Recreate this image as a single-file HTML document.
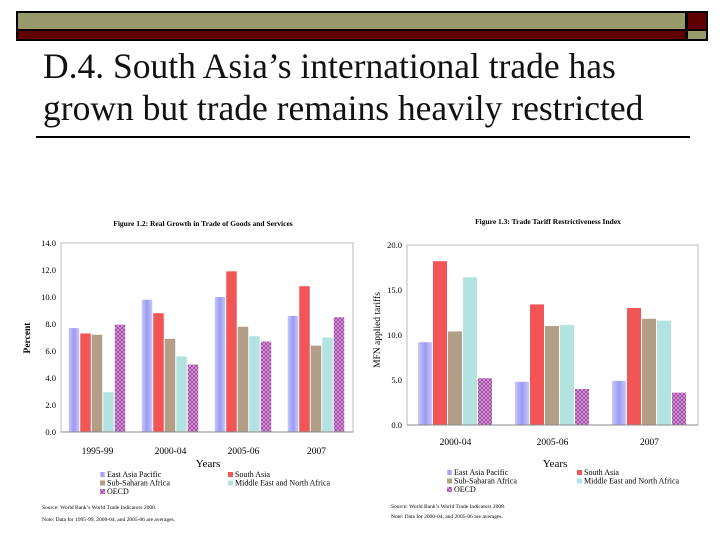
<!DOCTYPE html>
<html><head><meta charset="utf-8"><style>
body{margin:0;width:720px;height:540px;background:#fff;overflow:hidden;position:relative;font-family:"Liberation Serif",serif}
.t{position:absolute;left:43px;top:45px;font-size:35.5px;line-height:42px;color:#111;white-space:nowrap}
</style></head><body>
<div style="position:absolute;left:16px;top:11px;width:692px;height:30px;background:#000"></div>
<div style="position:absolute;left:18px;top:13px;width:667px;height:16px;background:#989a6c"></div>
<div style="position:absolute;left:18px;top:31px;width:667px;height:8px;background:#600000"></div>
<div style="position:absolute;left:688px;top:13px;width:18px;height:16px;background:#600000"></div>
<div style="position:absolute;left:688px;top:31px;width:18px;height:8px;background:#989a6c"></div>
<div class="t">D.4. South Asia’s international trade has<br>grown but trade remains heavily restricted</div>
<div style="position:absolute;left:36px;top:136px;width:654px;height:2px;background:#000"></div>
<svg id="s" width="720" height="540" style="position:absolute;left:0;top:0" font-family="Liberation Serif, serif">
<defs>
<linearGradient id="eap" x1="0" x2="1"><stop offset="0" stop-color="#c8c8fa"/><stop offset="0.5" stop-color="#9a9af2"/><stop offset="1" stop-color="#c8c8fa"/></linearGradient>
<pattern id="oecd" width="4" height="4" patternUnits="userSpaceOnUse"><rect width="4" height="4" fill="#9a3c9e"/><path d="M0 0L4 4M4 0L0 4" stroke="#d9a5dc" stroke-width="0.8"/></pattern>
</defs>
</svg>
<script>
const series=["East Asia Pacific","South Asia","Sub-Saharan Africa","Middle East and North Africa","OECD"];
const fills=["url(#eap)","#f25555","#b39e87","#b3e3e1","url(#oecd)"];
const c1Cats=["1995-99","2000-04","2005-06","2007"];
const c1EAP=[7.7,9.8,10.0,8.6];
const c1SA=[7.3,8.8,11.9,10.8];
const c1SSA=[7.2,6.9,7.8,6.4];
const c1MENA=[2.95,5.6,7.1,7.0];
const c1OECD=[7.95,5.0,6.7,8.5];
const c1Ticks=["0.0","2.0","4.0","6.0","8.0","10.0","12.0","14.0"];
const c2Cats=["2000-04","2005-06","2007"];
const c2EAP=[9.2,4.8,4.9];
const c2SA=[18.2,13.4,13.0];
const c2SSA=[10.4,11.0,11.8];
const c2MENA=[16.4,11.1,11.6];
const c2OECD=[5.2,4.0,3.6];
const c2Ticks=["0.0","5.0","10.0","15.0","20.0"];
const S=document.getElementById('s');
function el(t,a,txt){const e=document.createElementNS('http://www.w3.org/2000/svg',t);for(const k in a)e.setAttribute(k,a[k]);if(txt!==undefined)e.textContent=txt;S.appendChild(e);return e;}
function chart(o){
  const {x0,x1,y0,y1,max,cats,data,ticks,bw,id}=o;
  const ys=v=>y0-(v/max)*(y0-y1);
  const gw=(x1-x0)/cats.length;
  let e=el('rect',{x:x0,y:y1,width:x1-x0,height:y0-y1,fill:'none',stroke:'#bbb','stroke-width':1});
  
  ticks.forEach(t=>{const v=parseFloat(t);const tt=el('text',{x:x0-5,y:ys(v)+3,'text-anchor':'end','font-size':8.5},t);
    });
  cats.forEach((c,i)=>{
    const cx=x0+gw*(i+0.5);const start=cx-bw*data.length/2;
    data.forEach((d,j)=>{const r=el('rect',{x:start+j*bw,y:ys(d[i]),width:bw-1,height:y0-ys(d[i]),fill:fills[j]});
      });
    const l=el('text',{x:cx,y:o.catY,'text-anchor':'middle','font-size':9.5},c);
    
  });
  el('line',{x1:x0,y1:y0,x2:x1,y2:y0,stroke:'#888'});
}
chart({id:'growth',x0:61,x1:353,y0:432,y1:243,max:14,cats:c1Cats,data:[c1EAP,c1SA,c1SSA,c1MENA,c1OECD],ticks:c1Ticks,bw:11.5,catY:454});
chart({id:'tariff',x0:407,x1:698,y0:425,y1:245,max:20,cats:c2Cats,data:[c2EAP,c2SA,c2SSA,c2MENA,c2OECD],ticks:c2Ticks,bw:15,catY:445});
function txt(x,y,s,a,name){const t=el('text',Object.assign({x:x,y:y},a),s);return t;}
txt(203,226,'Figure 1.2:  Real Growth in Trade of Goods and Services',{'font-size':7.5,'font-weight':'bold','text-anchor':'middle'},'growth-title');
txt(548,224,'Figure 1.3:  Trade Tariff Restrictiveness Index',{'font-size':7.5,'font-weight':'bold','text-anchor':'middle'},'tariff-title');
txt(208,467,'Years',{'font-size':11,'text-anchor':'middle'},'growth-x-title');
txt(555,467,'Years',{'font-size':11,'text-anchor':'middle'},'tariff-x-title');
txt(30,338,'Percent',{'font-size':9.5,'font-weight':'bold','text-anchor':'middle',transform:'rotate(-90 30 338)'},'growth-y-title');
txt(380,330,'MFN applied tariffs',{'font-size':9.5,'text-anchor':'middle',transform:'rotate(-90 380 330)'},'tariff-y-title');
function legend(lx,rx,y,pre){
  const pos=[[lx,y],[rx,y],[lx,y+8.5],[rx,y+8.5],[lx,y+17]];
  series.forEach((s,j)=>{const [x,yy]=pos[j];
    const r=el('rect',{x:x,y:yy-5,width:5,height:5,fill:fills[j]});
    txt(x+7,yy,s,{'font-size':8},pre+'-legend-entry');});
}
legend(100,228,477,'growth');
legend(447,577,475,'tariff');
txt(42,509,'Source:  World Bank\u2019s World Trade Indicators 2008.',{'font-size':5.5},'growth-source');
txt(42,521,'Note:  Data for 1995-99, 2000-04, and 2005-06 are averages.',{'font-size':5.5},'growth-note');
txt(391,508,'Source:  World Bank\u2019s World Trade Indicators 2008.',{'font-size':5.5},'tariff-source');
txt(391,518,'Note:  Data for 2000-04, and 2005-06 are averages.',{'font-size':5.5},'tariff-note');
</script>
</body></html>
